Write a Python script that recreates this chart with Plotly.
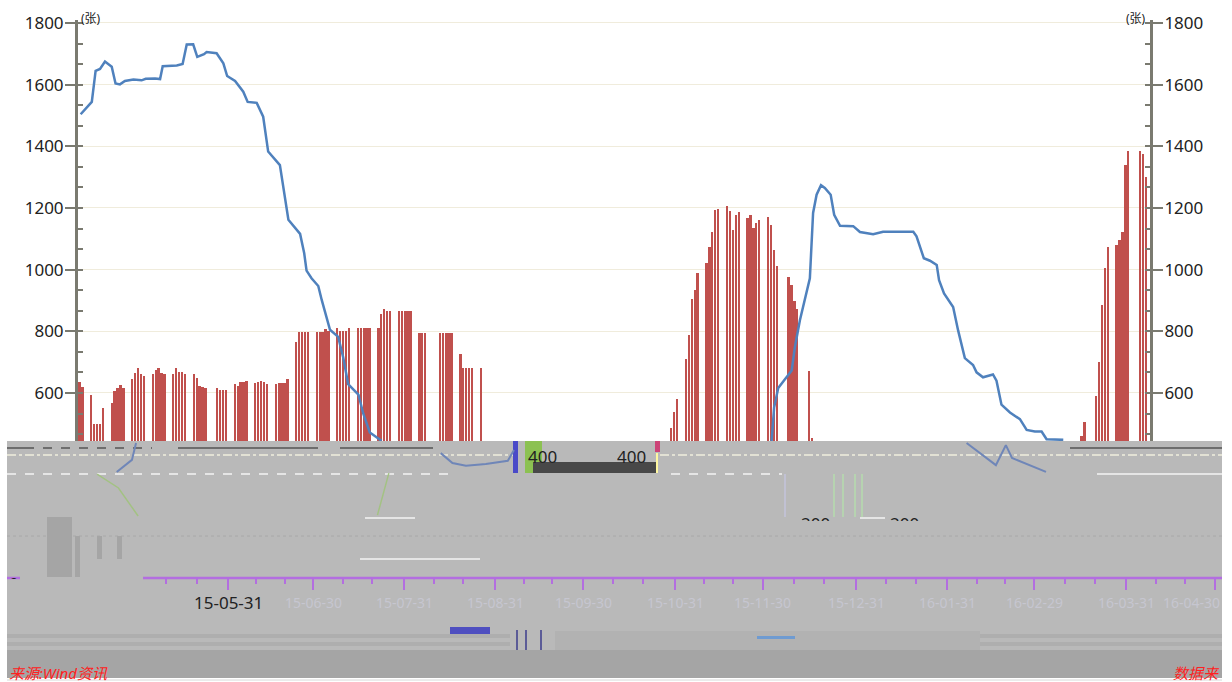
import pandas as pd
import plotly.graph_objects as go

W, H = 1232, 682

# ---------- data ----------
start_date = "2015-04-09"

spring_values = [
    637, 618,
    592, 500, 500, 500, 552,
    566, 608, 615, 626, 615,
    645, 666, 681, 660, 655,
    663, 675, 681, 666, 660,
    663, 681, 667, 667, 660,
    663, 649, 623, 620, 615,
    None, 615, 611, 611, 611,
    629, 623, 637, 637, 640,
    633, 637, 640, 637, 629,
    629, 633, 633, 633, 645,
    767, 797, 797, 797, 797,
    797, 797, 797, 808, 802,
    812, 801, 800, 800, 812,
    812, 812, 812, 812, 812,
    812, 855, 874, 867, 867,
    867, 867, 867, 867, 867,
    793, 793, 793, None, None,
    793, 793, 793, 793, 793,
    727, 681, 681, 681, 681,
    681,
]
autumn_start = "2015-10-28"
autumn_values = [
    488, 537, 580,
    711, 789, 904, 934, 990,
    1020, 1075, 1123, 1193, 1198,
    1205, 1190, 1130, 1176, 1187,
    1168, 1176, 1135, 1150, 1161,
    1172, 1146, 1064, 1012, None,
    975, 949, 897, 871, None,
    671, 455,
]
march_start = "2016-03-16"
march_values = [
    459, 506, None,
    591, 700, 886, 1004, 1072,
    1079, 1097, 1123, 1339, 1384,
    None, 1384, 1376, 1302,
]

line_days = [
    0.4, 4.2, 5.5, 7, 8.7, 11, 12.3, 13.8, 15.5, 18.4, 21.2, 22.6, 25.8, 27.5,
    28.4, 30.9, 33.2, 35.2, 36.6, 38.8, 40.2, 42.5, 43.4, 46.8, 49.1, 50.4,
    53.1, 55.9, 57.4, 60.5, 62.7, 64.4, 67.9, 68.4, 71.3, 75.3, 76.7, 77.5,
    79.2, 81.5, 82.7, 84.4, 85.5, 88.3, 90, 91.7, 95.2, 96.9, 99.1, 103.1,
    None,
    236.2, 237.1, 238.5, 243.1, 244.2, 245.9, 249.3, 250.4, 251.6, 253.1,
    254.4, 256.4, 257.6, 259.6, 264.1, 266.4, 270.9, 274.3, 284.6, 285.7,
    288.2, 290.3, 292.6, 293.4, 295.1, 298.2, 299.9, 302.2, 305, 306.2, 308.4,
    311.8, 313, 314.7, 317.6, 321, 323.3, 326.1, 328.4, 330.1, 335.8,
]
line_values = [
    1504, 1544, 1645, 1651, 1675, 1658, 1604, 1601, 1612, 1617, 1614, 1619, 1620, 1618,
    1660, 1661, 1662, 1667, 1730, 1731, 1690, 1699, 1706, 1702, 1669, 1628,
    1612, 1577, 1544, 1541, 1496, 1383, 1342, 1339, 1162, 1116, 1053, 997,
    972, 947, 901, 841, 805, 782, 716, 629, 595, 532, 472, 445,
    None,
    439, 553, 616, 673, 749, 836, 972, 1184, 1243, 1274,
    1265, 1243, 1178, 1142, 1141, 1122, 1115, 1123, 1123, 1108,
    1037, 1029, 1015, 966, 923, 879, 803, 713, 691, 667, 651,
    660, 640, 562, 537, 515, 480, 475, 475, 450, 448,
]

# pieces of the curve still legible inside the damaged band
piece_blue_days = [123.3, 127.3, 131.9, 138.7, 146.2, 148.3, None, 19.3, 17.9, 12.7, None,
                   302.8, 312.8, 316.2, 318.3, 329.9]
piece_blue_values = [405, 373, 364, 370, 380, 415, None, 438, 383, 344, None,
                     438, 366, 431, 389, 344]
piece_green_days = [6, 13.3, 20, None, 105.6, 101.7]
piece_green_values = [337, 292, 201, None, 340, 204]

date_labels = ["15-06-30", "15-07-31", "15-08-31", "15-09-30", "15-10-31",
               "15-11-30", "15-12-31", "16-01-31", "16-02-29", "16-03-31", "16-04-30"]
band_month_ticks = [228, 313, 404, 495, 583, 675, 763, 856, 947, 1034, 1126, 1215]
band_minor_ticks = [166, 197, 256, 285, 343, 372, 434, 463, 524, 552, 613, 643, 704, 733,
                    794, 824, 886, 916, 977, 1005, 1065, 1095, 1156, 1185]
band_bars = [(47, 517, 72, 577), (75, 536, 80, 577), (97, 536, 102, 559), (117, 536, 122, 559)]

# ---------- helpers ----------
BASE = pd.Timestamp(start_date)


def day_to_date(d):
    return None if d is None else BASE + pd.Timedelta(days=d)


def px(x):
    return x / W


def py(y):
    return 1 - y / H


def rect(x0, y0, x1, y1, color):
    return dict(type="rect", xref="paper", yref="paper", layer="below",
                x0=px(x0), x1=px(x1), y0=py(y0), y1=py(y1),
                fillcolor=color, line=dict(width=0))


def hline(x0, x1, y, color, width=1, dash="solid"):
    return dict(type="line", xref="paper", yref="paper", layer="below",
                x0=px(x0), x1=px(x1), y0=py(y), y1=py(y),
                line=dict(color=color, width=width, dash=dash))


def vline(x, y0, y1, color, width=2):
    return dict(type="line", xref="paper", yref="paper", layer="below",
                x0=px(x), x1=px(x), y0=py(y0), y1=py(y1),
                line=dict(color=color, width=width))


def note(x, y, text, size=18, color="#222222", xanchor="center", **kw):
    return dict(xref="paper", yref="paper", x=px(x), y=py(y), text=text, showarrow=False,
                xanchor=xanchor, yanchor="middle", font=dict(size=size, color=color), **kw)


# ---------- figure ----------
fig = go.Figure()
bar_w = 0.8 * 86400000
for first, values in [(start_date, spring_values), (autumn_start, autumn_values), (march_start, march_values)]:
    fig.add_trace(go.Bar(x=pd.bdate_range(first, periods=len(values)), y=values,
                         marker=dict(color="#c0504d", line=dict(width=0)), width=bar_w,
                         xaxis="x", yaxis="y", showlegend=False))

fig.add_trace(go.Scatter(x=[day_to_date(d) for d in line_days], y=line_values, mode="lines",
                         line=dict(color="#4f81bd", width=2.5), connectgaps=False,
                         xaxis="x", yaxis="y2", showlegend=False))
fig.add_trace(go.Scatter(x=[day_to_date(d) for d in piece_blue_days], y=piece_blue_values, mode="lines",
                         line=dict(color="#6f86b8", width=2), xaxis="x", yaxis="y3", showlegend=False))
fig.add_trace(go.Scatter(x=[day_to_date(d) for d in piece_green_days], y=piece_green_values, mode="lines",
                         line=dict(color="#a3c283", width=1.5), xaxis="x", yaxis="y3", showlegend=False))

AXIS = "#7a7a70"
common = dict(range=[444.3, 1809.7], tick0=0, dtick=200, ticks="outside", ticklen=10, tickwidth=2,
              tickcolor=AXIS, showline=True, linecolor=AXIS, linewidth=3, ticklabelstandoff=-2,
              tickfont=dict(family="Noto Sans", size=17, color="#222222"),
              minor=dict(ticks="inside", ticklen=5, tickwidth=2, tickcolor=AXIS, tick0=0, dtick=200 / 3),
              domain=[py(441), py(20)], zeroline=False, automargin=False)

shapes = [
    rect(7, 441, 1222, 678, "#b9b9b9"),
    rect(7, 650, 1222, 678, "#a5a5a5"),
    rect(7, 634, 510, 638, "#aeaeae"),
    rect(7, 642, 510, 646, "#aeaeae"),
    rect(980, 634, 1222, 638, "#aeaeae"),
    rect(980, 642, 1222, 646, "#aeaeae"),
    rect(555, 631, 980, 650, "#b2b2b2"),
    rect(525, 441, 542, 473, "#8cc152"),
    rect(513, 441, 518, 473, "#4a4ac8"),
    rect(533, 462, 656, 473, "#484848"),
    rect(655, 441, 660, 452, "#cc4477"),
    rect(656, 453, 658, 473, "#fff7a0"),
    rect(450, 627, 490, 634, "#4f4fc0"),
    rect(757, 636, 795, 639, "#6f9bd1"),
    hline(7, 34, 448, "#555555", 1.5),
    hline(43, 152, 448, "#555555", 1.5, "dash"),
    hline(178, 318, 448, "#555555", 1.5),
    hline(340, 433, 448, "#555555", 1.5),
    hline(1070, 1222, 448, "#555555", 1.5),
    hline(7, 513, 455, "#efeedd", 1.5, "dashdot"),
    hline(660, 1222, 455, "#efeedd", 1.5, "dashdot"),
    hline(7, 450, 474, "#f4f4f4", 1.5, "dash"),
    hline(671, 782, 474, "#f4f4f4", 1.5, "dash"),
    hline(1097, 1222, 474, "#f4f4f4", 1.5),
    hline(365, 415, 518, "#f4f4f4", 1.5),
    hline(860, 885, 518, "#f4f4f4", 1.5),
    hline(360, 480, 559, "#f4f4f4", 1.5),
    hline(7, 1222, 536, "#a8a8a8", 1, "dot"),
    hline(143, 1222, 578, "#b36ee0", 2.5),
    hline(7, 20, 578, "#b36ee0", 2.5),
    hline(7, 1222, 680, "#d8d8d8", 1),
]
shapes += [rect(*b, "#a5a5a5") for b in band_bars]
shapes += [vline(x, 578, 590, "#b36ee0") for x in band_month_ticks]
shapes += [vline(x, 578, 584, "#b36ee0") for x in band_minor_ticks]
shapes += [vline(x, 474, 517, "#b6dcae", 1.5) for x in (834, 843, 855, 862)]
shapes += [vline(x, 474, 517, "#c4c4dc", 1.5) for x in (785,)]
shapes += [vline(x, 630, 650, "#3d3d8c", 1.5) for x in (517, 526, 541)]

annotations = [
    note(91, 18, "(张)", size=12, height=16),
    note(1136, 18, "(张)", size=12, height=16),
    note(542, 456, "400", size=17, height=22),
    note(631, 456, "400", size=17, height=22),
    note(815, 516, "200", size=17, valign="top", height=9),
    note(904, 516, "200", size=17, valign="top", height=9),
    note(14, 575, "0", size=17, valign="top", height=7),
    note(228, 602, "15-05-31", size=17, height=22),
    note(7, 673, "<i>来源:Wind资讯</i>", size=15, color="#ff2020", xanchor="left", height=16),
    note(1222, 673, "<i>数据来</i>", size=15, color="#ff2020", xanchor="right", height=16),
]
for label, tick in zip(date_labels, band_month_ticks[1:]):
    anchor = "right" if tick + 28 > 1222 else "center"
    annotations.append(note(1222 if anchor == "right" else tick, 602, label, size=14,
                            color="#c6c6d0", xanchor=anchor, height=22))

fig.update_layout(
    width=W, height=H, autosize=False,
    margin=dict(l=0, r=0, t=0, b=0, pad=0),
    paper_bgcolor="white", plot_bgcolor="rgba(0,0,0,0)",
    font=dict(family="Noto Sans, Noto Sans CJK SC"),
    barmode="overlay", bargap=0, showlegend=False,
    xaxis=dict(type="date", domain=[px(78), px(1150)],
               range=[BASE - pd.Timedelta(days=0.512), BASE + pd.Timedelta(days=365.4)],
               visible=False, anchor="y"),
    yaxis=dict(side="left", anchor="x", showgrid=True, gridcolor="#f0ecdc", gridwidth=1, **common),
    yaxis2=dict(side="right", anchor="x", overlaying="y", showgrid=False, **common),
    yaxis3=dict(domain=[py(578), py(441)], range=[0, 444.3], visible=False, anchor="x"),
    shapes=shapes, annotations=annotations,
)

fig.write_html("out.html", config={"staticPlot": True},
               post_script="document.body.style.margin='0';document.body.style.overflow='hidden';")
